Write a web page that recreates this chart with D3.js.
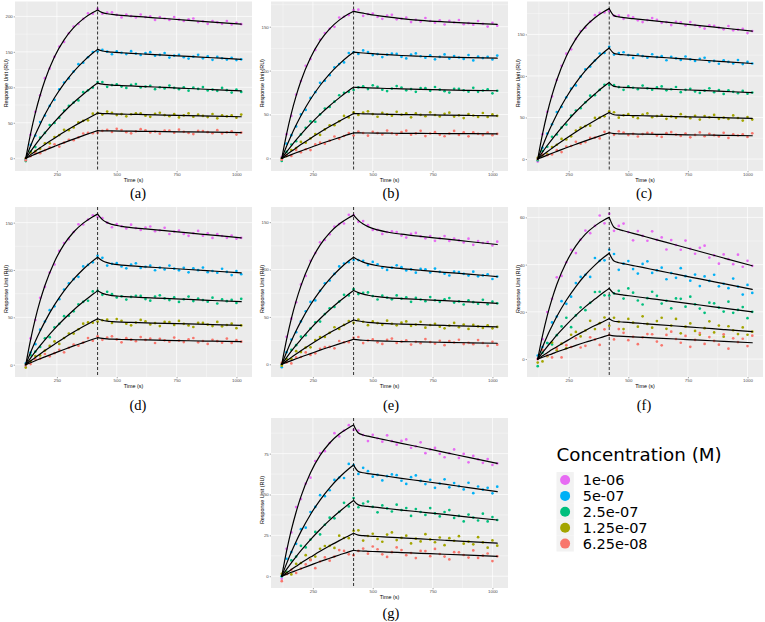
<!DOCTYPE html>
<html><head><meta charset="utf-8">
<script src="https://cdn.jsdelivr.net/npm/d3@7"></script>
<style>body{margin:0;background:#fff}svg{display:block}</style>
</head><body>
<svg id="chart" width="765" height="622"></svg>
<script>
// ---------------- DATA ----------------
const CONC = ["1e-06","5e-07","2.5e-07","1.25e-07","6.25e-08"];
const COLORS = ["#E76BF3","#00B0F6","#00BF7D","#A3A500","#F8766D"];
const X_TICKS = [250,500,750,1000];
const INJECTION_END = 420;
const OBS_T = [120,140,160,180,200,220,240,260,280,300,320,340,360,380,400,420,440,460,480,500,520,540,560,580,600,620,640,660,680,700,720,740,760,780,800,820,840,860,880,900,920,940,960,980,1000,1020];
const FIT_T = [120,140,160,180,200,240,280,320,360,400,420,440,460,480,520,560,620,700,800,900,1020];

// panel (a)
const obs_a_1 = [0,33,65.5,88.8,112.9,126.4,143,157.4,164,176.2,185.6,189.3,196.5,204.3,203.9,210.5,203.8,205.2,205.8,202.1,198.5,202.5,200.5,198.5,202.5,199,200,195,199,197,195,199,195.5,193.5,196,197,192,193,189.5,193.5,191.5,189.5,193.5,188.5,191,189];
const obs_a_2 = [-1.5,18.8,32,51,60.1,73.8,82.3,97.1,106.8,112.6,122.2,132.6,134.8,142.4,149.8,150.5,152.7,150.2,146.6,150.6,148.7,146.8,150.9,147.6,145.7,148.3,149.5,144.6,145.7,148.4,142,144.6,145.8,142.4,140.5,143.2,145.8,140.9,143.6,138.7,142.8,141,139.1,141.7,138.4,139.5];
const obs_a_3 = [-4,9.5,15.8,29,35.7,46.7,49.8,57,67,73.7,78.5,81.5,93.2,95.8,99.6,107.5,107.4,100.7,103.2,104.3,101,99.2,103.4,104.6,99.8,101,102.2,97.4,100.1,98.3,102.5,99.2,97.4,100.1,95.3,99.5,97.7,100.4,95.6,96.8,95,99.2,95.9,92.6,96.8,93.5];
const obs_a_4 = [0,8.1,10,13.2,21,21,29.8,32.6,40,39.6,43.5,50.5,52.7,53.5,62.9,63.5,61.5,65.8,64.1,60.9,62.3,59.1,62,63.3,63.2,60,58.4,62.7,64.1,60.9,59.3,62.1,57.5,60.3,63.2,58.5,61.4,59.7,58.1,62.4,56.3,60.6,59,60.3,57.2,61.5];
const obs_a_5 = [-3,2.9,7.3,7.1,11.3,15.5,19.7,16.4,22,26,25.5,29.4,34.9,35.8,35.2,36,38.7,40.1,37,41.4,39.8,36.7,35.1,38,41,39.4,36.3,37.7,34.6,39,39,35.9,40.3,37.2,35.6,34,38.5,38.4,36.8,35.2,39.6,35,36.5,37.9,33.3,36.2];
const fit_a_1 = [0,34.5,64,88.8,109.9,143,167,184.1,196.5,205.4,209,205.3,203.7,202.8,201.5,200.5,199,197,194.5,192,189];
const fit_a_2 = [0,17.3,33.5,48,61.6,85.3,105.3,122.2,136.3,148.3,153.5,151.2,150.2,149.6,148.7,147.9,146.8,145.4,143.5,141.7,139.5];
const fit_a_3 = [0,9.5,18.8,27.5,35.7,51.3,65.5,78.5,90.2,101.1,106,104.4,103.7,103.2,102.5,101.9,101,99.8,98.3,96.8,95];
const fit_a_4 = [0,5.1,10,14.7,19.5,28.3,37,45,52.7,59.9,63.5,63,62.8,62.6,62.25,61.95,61.5,60.9,60.15,59.4,58.5];
const fit_a_5 = [0,2.9,5.8,8.6,11.3,16.7,22,27,31.9,36.7,39,38.7,38.6,38.5,38.3,38.1,37.9,37.5,37.1,36.7,36.2];

// panel (b)
const obs_b_1 = [1.5,27.6,48.3,72.7,88.1,105.5,113.1,123.5,135.3,142.7,147.6,149.9,160.5,161.3,163.2,169,169.4,162.4,164.4,165,161.2,159,162.7,163.6,158.4,159.3,160.3,155.3,157.8,155.8,159.9,156.5,154.6,157.3,152.5,156.6,154.8,157.5,152.8,154,152.3,156.5,153.3,150.1,154.4,151.2];
const obs_b_2 = [0,16.7,26.4,36.4,50,55.2,68.8,75.4,86,88.4,94.8,103.6,107.4,109.3,119.9,121,119,123,121.1,117.7,118.8,115.4,118.1,119.3,119,115.7,113.9,118.2,119.5,116.3,114.6,117.4,112.8,115.6,118.4,113.7,116.6,114.9,113.3,117.7,111.6,115.9,114.3,115.7,112.6,117.1];
const obs_b_3 = [-3,7.3,15.8,19.5,27.3,34.9,42.2,41.7,50.1,56.7,58.5,64.6,71.9,74.7,75.8,78,80.8,82.1,78.9,83.2,81.5,78.3,76.6,79.5,82.3,80.7,77.5,78.9,75.8,80.1,80,76.9,81.3,78.2,76.5,74.9,79.3,79.2,77.6,76,80.4,75.8,77.3,78.7,74.1,77];
const obs_b_4 = [0,2.6,9.5,11.8,18.7,17.8,22.7,27.7,26.7,33,37.7,37.8,42.3,48.3,46.6,52.5,49.4,52.2,53.6,50.5,47.4,51.8,50.2,48.6,53,49.9,51.3,46.7,51.2,49.6,48,52.4,49.4,47.8,50.7,52.1,47.6,49,45.9,50.4,48.8,47.2,51.7,47.1,50,48.5];
const obs_b_5 = [-1.5,3.6,2.8,9.4,6.9,10.4,9.4,15.9,17.9,16.7,20.1,24.9,22.2,25.5,28.8,26,30.5,28.9,25.9,30.3,28.8,27.2,31.7,28.6,27.1,30,31.5,27,28.4,31.4,25.4,28.3,29.8,26.8,25.2,28.2,31.2,26.6,29.6,25.1,29.5,28,26.5,29.4,26.4,27.9];
const fit_b_1 = [0,27.6,51.3,71.2,88.1,114.6,133.8,147.6,157.5,164.7,167.5,166.4,165.4,164.4,162.7,161.2,159.3,157.3,155.5,154,152.7];
const fit_b_2 = [0,13.7,26.4,37.9,48.5,67.3,83,96.3,107.4,116.9,121,120.5,120,119.6,118.8,118.1,117.2,116.3,115.4,114.7,114.1];
const fit_b_3 = [0,7.3,14.3,21,27.3,39.2,50.1,60,68.9,77.3,81,80.8,80.6,80.4,80,79.6,79.2,78.6,78,77.5,77];
const fit_b_4 = [0,4.1,8,11.8,15.7,22.7,29.7,36.2,42.3,48.1,51,50.9,50.7,50.6,50.4,50.2,49.9,49.6,49.2,48.9,48.5];
const fit_b_5 = [0,2.1,4.3,6.4,8.4,12.4,16.4,20.1,23.7,27.3,29,29,28.9,28.9,28.8,28.7,28.5,28.4,28.2,28.1,27.9];

// panel (c)
const obs_c_1 = [-3,29.9,56.9,75.4,95.2,112.3,126.8,132,144.6,154.1,158,165.3,173.1,175.8,176.4,178,172.6,172.5,168.7,172.6,170.5,166.9,164.8,167.2,169.6,167.5,163.9,164.8,161.2,165.1,164.5,160.9,164.8,161.2,159.1,157,160.9,160.3,158.2,156.1,160,154.9,155.8,156.7,151.6,154];
const obs_c_2 = [0,13.6,30.6,41.8,56.6,62.8,74.3,84.7,88.6,99.3,107.8,111.3,118.6,127,127.6,135.1,125.7,127.5,128.5,125.1,121.7,125.8,123.9,122,126.1,122.7,123.8,118.9,123.1,121.2,119.3,123.4,120,118.1,120.7,121.9,117,118.1,114.7,118.8,116.9,115,119.1,114.3,116.9,115];
const obs_c_3 = [-1.5,9.8,14.8,26.8,29.5,37.9,41.5,52.3,58.4,61.2,68.2,76.3,76.8,83.2,89.3,89,88.9,86.6,83.3,87.6,85.8,84.1,88.4,85.1,83.4,86.2,87.4,82.7,84,86.7,80.5,83.3,84.5,81.3,79.6,82.3,85.1,80.4,83.1,78.4,82.7,80.9,79.2,82,78.7,80];
const obs_c_4 = [1.5,4.5,5.8,14.5,17.2,24.2,23.5,27.3,34.1,37.7,39.7,40.2,49.5,49.8,51.4,57.5,56.3,49.8,52.6,54,50.8,49.2,53.6,54.9,50.3,51.7,53,48.4,51.3,49.6,54,50.9,49.2,52.1,47.5,51.8,50.2,53.1,48.4,49.8,48.2,52.5,49.4,46.3,50.6,47.5];
const obs_c_5 = [0,5.3,4.7,5.5,10.7,8.4,15.1,15.7,20.8,18.4,20.4,25.4,25.8,24.8,32.7,31.6,29.1,33.4,31.8,28.8,30.2,27.1,30,31.4,31.3,28.2,26.6,31.1,32.5,29.4,27.8,30.7,26.1,29,32,27.4,30.3,28.7,27.1,31.5,25.4,29.8,28.3,29.7,26.6,31];
const fit_c_1 = [0,29.9,55.4,76.9,95.2,123.8,144.6,159.5,170.1,177.9,181,172.6,171,170.2,169,167.8,166,163.6,160.6,157.6,154];
const fit_c_2 = [0,15.1,29.1,41.8,53.6,74.3,91.6,106.3,118.6,129.1,133.6,127.2,126,125.5,124.7,123.9,122.7,121.2,119.2,117.3,115];
const fit_c_3 = [0,8.3,16.3,23.8,31,44.5,56.9,68.2,78.3,87.8,92,87.4,86.6,86.3,85.8,85.4,84.7,83.7,82.6,81.4,80];
const fit_c_4 = [0,4.5,8.8,13,17.2,25,32.6,39.7,46.5,52.9,56,53.3,52.8,52.6,52.3,52.1,51.7,51.1,50.5,49.8,49];
const fit_c_5 = [0,2.3,4.7,7,9.2,13.6,17.8,21.9,25.8,29.7,31.6,30.6,30.4,30.3,30.17,29.99,29.73,29.38,28.95,28.51,28];

// panel (d)
const obs_d_1 = [-1.5,27.7,47.2,70.6,82.1,97.3,105.8,120.1,128.5,132.5,140.1,148.2,148,153.1,157.8,156,154.7,150,145.1,148.4,146.1,143.9,147.8,144.3,142.3,144.8,145.9,140.9,141.9,144.5,138,140.5,141.6,138.1,136.1,138.7,141.2,136.2,138.8,133.8,137.8,135.9,133.9,136.4,133,134];
const obs_d_2 = [1.5,12.8,21.7,37,45.5,57.6,61.6,69.2,79.4,85.8,90.3,92.8,103.8,105.3,108.1,115,112.8,104.7,106.5,107.2,103.7,101.7,105.8,107,102.2,103.3,104.5,99.7,102.4,100.6,104.7,101.4,99.6,102.3,97.5,101.7,99.8,102.5,97.7,98.9,97.1,101.3,97.9,94.6,98.8,95.5];
const obs_d_3 = [0,10,13.8,18.7,27.8,29.1,39.3,43.1,51.2,51.6,56.3,63.7,66.4,67.5,77.4,78,73.8,76.9,74.5,71,72.1,68.8,71.5,72.8,72.6,69.3,67.6,71.9,73.2,70,68.2,71,66.3,69.1,71.9,67.2,69.9,68.2,66.5,70.8,64.6,68.9,67.1,68.4,65.2,69.5];
const obs_d_4 = [-3,3.9,9.1,9.8,14.9,19.8,24.6,21.9,28.2,32.9,32.9,37.4,43.3,44.6,44.3,45.5,46.9,47.5,44,48.2,46.4,43.3,41.6,44.5,47.3,45.7,42.5,43.9,40.8,45.1,45,41.9,46.2,43.1,41.5,39.8,44.2,44.1,42.4,40.8,45.2,40.5,41.9,43.3,38.6,41.5];
const obs_d_5 = [0,0.6,5.7,6.3,11.3,8.8,12.2,15.7,13.1,17.9,21.3,20,23.3,28.1,25.3,30,26.2,28.7,29.9,26.7,23.6,28,26.4,24.8,29.2,26.1,27.5,22.9,27.3,25.7,24.2,28.6,25.5,23.9,26.8,28.2,23.6,25,21.9,26.3,24.8,23.2,27.6,23,25.9,24.3];
const fit_d_1 = [0,26.2,48.7,67.6,83.6,108.8,127,140.1,149.5,156.3,159,153.2,150,148.1,146.1,144.8,143.3,141.5,139.1,136.8,134];
const fit_d_2 = [0,12.8,24.7,35.5,45.5,63.1,77.9,90.3,100.8,109.6,113.5,109.8,107.7,106.5,105.2,104.3,103.3,102.1,100.5,98.9,97];
const fit_d_3 = [0,7,13.8,20.2,26.3,37.8,48.2,57.8,66.4,74.4,78,75.3,73.9,73,72.1,71.5,70.8,70,68.9,67.8,66.5];
const fit_d_4 = [0,3.9,7.6,11.3,14.9,21.6,28.2,34.4,40.3,45.8,48.5,46.9,46,45.5,44.9,44.6,44.2,43.6,43,42.3,41.5];
const fit_d_5 = [0,2.1,4.2,6.3,8.3,12.2,16.1,19.8,23.3,26.8,28.5,27.7,27.2,26.9,26.6,26.4,26.1,25.7,25.3,24.8,24.3];

// panel (e)
const obs_e_1 = [0,29,48.2,65.4,84.3,93.3,109.2,117.4,128.8,131.2,137.2,145.2,148,148.6,157.7,157.4,150.4,151.1,146.8,141.8,141.8,137.6,139.6,140.2,139.5,135.8,133.7,137.6,138.6,135,132.9,135.4,130.3,132.8,135.3,130.2,132.7,130.7,128.6,132.6,126.1,130,128,129,125.4,129.4];
const obs_e_2 = [-3,12.8,26.1,33.9,45.3,55.9,65.8,67.4,77.5,85.5,88.4,95.4,103.3,106.4,107.7,110,110,109.3,104.7,108,105.5,101.8,99.6,102,104.5,102.5,99.1,100.1,96.7,100.7,100.3,96.9,101,97.6,95.6,93.7,97.8,97.4,95.5,93.6,97.7,92.8,93.8,94.9,90,92.6];
const obs_e_3 = [0,5.5,15.3,20.2,29.2,30.6,37.7,44.4,45.1,53,59.1,60.5,66.2,73.3,72.7,79.3,74.1,75.5,75.9,72,68.4,72.4,70.4,68.6,72.7,69.4,70.7,65.9,70.1,68.4,66.6,70.9,67.6,65.9,68.6,69.9,65.1,66.4,63.1,67.4,65.6,63.9,68.1,63.4,66.1,64.4];
const obs_e_4 = [-1.5,5.2,5.8,13.9,12.9,17.7,17.9,25.6,28.7,28.8,33.2,39.1,37.3,41.6,45.7,43.8,47.2,44.9,41.3,45.3,43.5,41.7,46,42.8,41.1,43.9,45.2,40.6,41.9,44.8,38.6,41.5,42.8,39.7,38,40.9,43.7,39.1,41.9,37.3,41.6,40,38.3,41.2,38,39.4];
const obs_e_5 = [1.5,2,0.9,7.3,7.7,12.5,9.8,11.6,16.4,18.1,18.3,16.9,24.6,23.2,23.3,27.9,28.8,22.4,25.1,26.3,23.2,21.5,25.9,27.2,22.6,24,25.4,20.8,23.7,22.2,26.6,23.5,21.9,24.8,20.2,24.6,23,25.9,21.3,22.7,21.2,25.6,22.5,19.4,23.8,20.7];
const fit_e_1 = [0,26,48.2,66.9,82.8,107.7,125.8,138.7,148,154.7,157.4,151.9,148.1,145.3,141.8,139.6,137.3,135,132.3,129.6,126.4];
const fit_e_2 = [0,12.8,24.6,35.4,45.3,62.8,77.5,89.9,100.3,109.2,113,110,107.8,106.2,104,102.6,101,99.24,97.1,95.1,92.6];
const fit_e_3 = [0,7,13.8,20.2,26.2,37.7,48.1,57.6,66.2,74.2,77.8,75.6,74,72.9,71.4,70.4,69.4,68.4,67.1,65.9,64.4];
const fit_e_4 = [0,3.7,7.3,10.9,14.4,20.9,27.2,33.2,38.8,44.2,46.8,45.7,44.9,44.3,43.5,42.95,42.4,41.8,41,40.3,39.4];
const fit_e_5 = [0,2,3.9,5.8,7.7,11.3,14.9,18.3,21.6,24.8,26.4,25.8,25.4,25.1,24.65,24.36,24.03,23.65,23.19,22.74,22.2];

// panel (f)
const obs_f_1 = [0,8.4,19.9,25.5,34.6,35.2,41,46.3,44.9,50.6,54.4,53.3,56.4,60.8,57.5,61.5,54.3,56.4,57.4,53.8,50.3,54.2,52.2,50.1,54.1,50.5,51.5,46.4,50.4,48.3,46.3,50.2,46.7,44.6,47.1,48,43,43.9,40.4,44.3,42.3,40.2,44.2,39.1,41.6,39.5];
const obs_f_2 = [1.5,5.1,6.8,15.5,18,24.5,23.4,26.4,32.2,34.8,35.7,34.8,42.8,41.6,41.8,46.3,44.5,37.8,40.4,41.5,38.1,36.2,40.3,41.4,36.5,37.6,38.7,33.8,36.4,34.4,38.5,35.1,33.2,35.8,30.9,35,33.1,35.7,30.8,31.9,30,34.1,30.7,27.3,31.4,28];
const obs_f_3 = [-3,2.7,6.8,6.2,10.1,13.8,17.5,13.5,18.5,21.9,20.7,23.8,28.4,28.5,27,26.9,27.8,28.9,25.6,29.9,28.1,24.8,23.1,25.8,28.5,26.8,23.5,24.7,21.5,25.7,25.5,22.2,26.4,23.2,21.4,19.6,23.9,23.6,21.8,20.1,24.3,19.6,20.8,22,17.3,20];
const obs_f_4 = [-1.5,-1,1.2,7,3.7,6.5,4.6,10.3,11.5,9.6,12.1,16.2,12.7,15.2,17.6,14.1,17.5,15.8,12.7,17,15.4,13.7,18.1,14.9,13.3,16.1,17.5,12.8,14.2,17,10.9,13.7,15.1,11.9,10.3,13.1,16,11.3,14.2,9.5,13.9,12.2,10.6,13.4,10.3,11.6];
const obs_f_5 = [0,3.8,1.5,0.7,4.5,0.7,5.9,5.1,8.8,4.9,5.6,9.2,8.3,6,12.6,10.2,8.3,12.7,11.1,8,9.4,6.3,9.2,10.6,10.5,7.4,5.8,10.2,11.6,8.5,6.9,9.8,5.2,8.1,11,6.4,9.3,7.7,6.1,10.5,4.4,8.8,7.2,8.6,5.5,9.9];
const fit_f_1 = [0,9.9,18.4,25.5,31.6,41,47.9,52.9,56.4,59,60,55.8,54.9,54.35,53.25,52.15,50.5,48.3,45.55,42.8,39.5];
const fit_f_2 = [0,5.1,9.8,14,18,24.9,30.7,35.7,39.8,43.3,44.8,41.5,40.8,40.4,39.6,38.8,37.55,35.94,33.93,31.92,29.5];
const fit_f_3 = [0,2.7,5.3,7.7,10.1,14.5,18.5,22.2,25.4,28.5,29.9,27.8,27.4,27.1,26.6,26.06,25.27,24.2,22.9,21.58,20];
const fit_f_4 = [0,1.4,2.7,4,5.2,7.6,10,12.1,14.2,16.1,17.1,16,15.8,15.65,15.35,15.05,14.6,14,13.25,12.5,11.6];
const fit_f_5 = [0,0.75,1.5,2.2,3,4.4,5.8,7.1,8.3,9.6,10.2,9.8,9.7,9.6,9.4,9.2,8.9,8.5,8,7.5,6.9];

// panel (g)
const obs_g_1 = [-1.5,16.8,26.8,42.3,47.2,56.6,60.3,70.5,75.4,76.5,81.5,87.5,85.5,89.1,92.4,89.5,89.1,86.4,82.7,86.5,84.4,82.3,86.2,82.6,80.5,82.8,83.7,78.6,79.5,81.9,75.3,77.6,78.5,74.9,72.8,75.2,77.6,72.4,74.8,69.7,73.6,71.5,69.4,71.7,68.1,69];
const obs_g_2 = [0,10.7,14.8,19.8,28.8,29.7,39.3,42.4,49.6,49,52.6,58.9,60.4,60.1,68.7,68,62.6,66.3,64.3,60.9,62,58.6,61.2,62.3,61.8,58.4,56.5,60.6,61.7,58.3,56.4,59,54.1,56.7,59.3,54.4,57,55.1,53.1,57.2,50.8,54.9,53,54.1,50.7,54.8];
const obs_g_3 = [0,2.7,9.7,12,18.6,17.6,22.4,27.1,25.6,31.5,35.8,35.4,39.4,44.9,42.7,47.8,42.2,44.5,45.7,42.4,39.1,43.3,41.5,39.6,43.8,40.5,41.7,36.9,41.1,39.3,37.5,41.7,38.4,36.6,39.3,40.5,35.7,36.9,33.5,37.7,35.9,34.1,38.3,33.5,36.2,34.4];
const obs_g_4 = [1.5,2.1,1.1,7.6,8.1,12.9,10.2,12,16.8,18.5,18.6,17.3,24.8,23.4,23.3,27.8,28.1,21.8,24.6,26,22.8,21.1,25.5,26.8,22.1,23.5,24.8,20.1,23,21.3,25.7,22.5,20.8,23.7,19,23.3,21.7,24.5,19.9,21.2,19.5,23.9,20.7,17.5,21.9,18.7];
const obs_g_5 = [-3,1.2,3.9,2,4.6,7.2,9.8,4.9,9,11.5,9.5,12,16,15.5,13.4,12.9,15.5,16.9,13.8,18.2,16.5,13.4,11.8,14.7,17.6,16,12.9,14.2,11.1,15.5,15.4,12.3,16.7,13.6,12,10.3,14.7,14.6,13,11.4,15.8,11.2,12.6,13.9,9.3,12.2];
const fit_g_1 = [0,15.3,28.3,39.3,48.7,63.3,73.9,81.5,87,90.9,92.5,87.6,86.4,85.7,84.4,83.2,81.3,78.9,75.8,72.7,69];
const fit_g_2 = [0,7.7,14.8,21.3,27.3,37.8,46.6,54.1,60.4,65.7,68,64.1,63.3,62.8,62,61.15,59.9,58.3,56.3,54.2,51.8];
const fit_g_3 = [0,4.2,8.2,12,15.6,22.4,28.6,34.3,39.4,44.2,46.3,43.65,43,42.7,42.1,41.45,40.5,39.3,37.8,36.2,34.4];
const fit_g_4 = [0,2.1,4.1,6.1,8.1,11.7,15.3,18.6,21.8,24.8,26.3,25.1,24.8,24.6,24.3,23.96,23.47,22.82,22,21.2,20.2];
const fit_g_5 = [0,1.2,2.4,3.5,4.6,6.8,9,11,13,14.9,15.9,15.5,15.4,15.26,15,14.8,14.47,14.02,13.45,12.9,12.2];

const Y_TICKS_a = [0,50,100,150,200];
const Y_TICKS_b = [0,50,100,150];
const Y_TICKS_c = [0,50,100,150];
const Y_TICKS_d = [0,50,100,150];
const Y_TICKS_e = [0,50,100,150];
const Y_TICKS_f = [0,20,40,60];
const Y_TICKS_g = [0,25,50,75];
const X_LIMITS = [75,1065];

// ---------------- LAYOUT ----------------
const COLS = [[15,252],[271,508],[527,763]];
const ROWS = [[1.5,171],[207,377],[418,588]];
const CAP_X = [138,391,644];
const CAP_Y = [197.5,409.5,617.5];

const panels = [
  {label:"(a)",col:0,row:0,yLim:[-18,221],yTicks:Y_TICKS_a,obs:[obs_a_1,obs_a_2,obs_a_3,obs_a_4,obs_a_5],fit:[fit_a_1,fit_a_2,fit_a_3,fit_a_4,fit_a_5]},
  {label:"(b)",col:1,row:0,yLim:[-14.4,178.7],yTicks:Y_TICKS_b,obs:[obs_b_1,obs_b_2,obs_b_3,obs_b_4,obs_b_5],fit:[fit_b_1,fit_b_2,fit_b_3,fit_b_4,fit_b_5]},
  {label:"(c)",col:2,row:0,yLim:[-14.4,189.6],yTicks:Y_TICKS_c,obs:[obs_c_1,obs_c_2,obs_c_3,obs_c_4,obs_c_5],fit:[fit_c_1,fit_c_2,fit_c_3,fit_c_4,fit_c_5]},
  {label:"(d)",col:0,row:1,yLim:[-13,166.5],yTicks:Y_TICKS_d,obs:[obs_d_1,obs_d_2,obs_d_3,obs_d_4,obs_d_5],fit:[fit_d_1,fit_d_2,fit_d_3,fit_d_4,fit_d_5]},
  {label:"(e)",col:1,row:1,yLim:[-13.4,166],yTicks:Y_TICKS_e,obs:[obs_e_1,obs_e_2,obs_e_3,obs_e_4,obs_e_5],fit:[fit_e_1,fit_e_2,fit_e_3,fit_e_4,fit_e_5]},
  {label:"(f)",col:2,row:1,yLim:[-7.6,64.4],yTicks:Y_TICKS_f,obs:[obs_f_1,obs_f_2,obs_f_3,obs_f_4,obs_f_5],fit:[fit_f_1,fit_f_2,fit_f_3,fit_f_4,fit_f_5]},
  {label:"(g)",col:1,row:2,yLim:[-7.2,96.8],yTicks:Y_TICKS_g,obs:[obs_g_1,obs_g_2,obs_g_3,obs_g_4,obs_g_5],fit:[fit_g_1,fit_g_2,fit_g_3,fit_g_4,fit_g_5]}
];

const AXIS_FONT = "'Liberation Sans', Arial, Helvetica, sans-serif";
const svg = d3.select("#chart");
svg.append("rect").attr("width",765).attr("height",622).attr("fill","#fff");

panels.forEach(p => {
  const [x0,x1] = COLS[p.col], [y0,y1] = ROWS[p.row];
  const x = d3.scaleLinear().domain(X_LIMITS).range([x0,x1]);
  const y = d3.scaleLinear().domain(p.yLim).range([y1,y0]);
  const g = svg.append("g");
  const clipId = "clip" + p.label.replace(/[()]/g,"");
  g.append("clipPath").attr("id",clipId).append("rect")
    .attr("x",x0).attr("y",y0).attr("width",x1-x0).attr("height",y1-y0);
  g.append("rect").attr("x",x0).attr("y",y0).attr("width",x1-x0).attr("height",y1-y0).attr("fill","#EBEBEB");

  // grid
  const step = p.yTicks[1]-p.yTicks[0];
  const yMinor = [p.yTicks[0]-step/2, ...p.yTicks.map(t=>t+step/2)].filter(v=>v>p.yLim[0]&&v<p.yLim[1]);
  const xStep = X_TICKS[1]-X_TICKS[0];
  const xMinor = [X_TICKS[0]-xStep/2, ...X_TICKS.map(t=>t+xStep/2)].filter(v=>v>X_LIMITS[0]&&v<X_LIMITS[1]);
  const grid = g.append("g");
  grid.selectAll(".ymin").data(yMinor).join("line")
    .attr("x1",x0).attr("x2",x1).attr("y1",d=>y(d)).attr("y2",d=>y(d))
    .attr("stroke","#fff").attr("stroke-width",0.35);
  grid.selectAll(".xmin").data(xMinor).join("line")
    .attr("y1",y0).attr("y2",y1).attr("x1",d=>x(d)).attr("x2",d=>x(d))
    .attr("stroke","#fff").attr("stroke-width",0.35);
  grid.selectAll(".ymaj").data(p.yTicks).join("line")
    .attr("x1",x0).attr("x2",x1).attr("y1",d=>y(d)).attr("y2",d=>y(d))
    .attr("stroke","#fff").attr("stroke-width",0.7);
  grid.selectAll(".xmaj").data(X_TICKS).join("line")
    .attr("y1",y0).attr("y2",y1).attr("x1",d=>x(d)).attr("x2",d=>x(d))
    .attr("stroke","#fff").attr("stroke-width",0.7);

  const plot = g.append("g").attr("clip-path",`url(#${clipId})`);
  // points
  p.obs.forEach((arr,si) => {
    const pts = arr.map((v,i)=>({t:OBS_T[i],v})).filter(d=>d.t!==undefined);
    plot.append("g").selectAll("circle").data(pts).join("circle")
      .attr("cx",d=>x(d.t)).attr("cy",d=>y(d.v)).attr("r",1.35)
      .attr("fill",COLORS[si]);
  });
  // fitted curves (association and dissociation phases)
  const line = d3.line().x(d=>x(d.t)).y(d=>y(d.v)).curve(d3.curveMonotoneX);
  p.fit.forEach(arr => {
    const pts = arr.map((v,i)=>({t:FIT_T[i],v}));
    const assoc = pts.filter(d=>d.t<=INJECTION_END);
    const dissoc = pts.filter(d=>d.t>=INJECTION_END);
    [assoc,dissoc].forEach(seg => plot.append("path").datum(seg).attr("d",line)
      .attr("fill","none").attr("stroke","#000").attr("stroke-width",1.2)
      .attr("stroke-linejoin","round").attr("stroke-linecap","round"));
  });
  // injection end
  plot.append("line").attr("x1",x(INJECTION_END)).attr("x2",x(INJECTION_END))
    .attr("y1",y0).attr("y2",y1).attr("stroke","#000").attr("stroke-width",0.8)
    .attr("stroke-dasharray","3,2");

  // axes
  const ax = g.append("g").attr("transform",`translate(0,${y1})`)
    .call(d3.axisBottom(x).tickValues(X_TICKS).tickSize(1.3).tickPadding(0.9).tickFormat(d3.format("d")));
  const ay = g.append("g").attr("transform",`translate(${x0},0)`)
    .call(d3.axisLeft(y).tickValues(p.yTicks).tickSize(1.3).tickPadding(0.9).tickFormat(d3.format("d")));
  [ax,ay].forEach(a => {
    a.select(".domain").remove();
    a.selectAll(".tick line").attr("stroke","#333").attr("stroke-width",0.45);
    a.selectAll(".tick text").attr("fill","#4D4D4D").attr("font-size","4.4px").attr("font-family",AXIS_FONT);
  });
  g.append("text").attr("x",(x0+x1)/2).attr("y",y1+11).attr("text-anchor","middle")
    .attr("font-size","5.4px").attr("font-family",AXIS_FONT).attr("fill","#000").text("Time (s)");
  g.append("text").attr("transform",`translate(${x0-7},${(y0+y1)/2-3}) rotate(-90)`)
    .attr("text-anchor","middle").attr("font-size","5.4px").attr("font-family",AXIS_FONT)
    .attr("fill","#000").text("Response Unit (RU)");
  // caption
  svg.append("text").attr("x",CAP_X[p.col]).attr("y",CAP_Y[p.row]).attr("text-anchor","middle")
    .attr("font-family","'Liberation Serif', 'Times New Roman', serif").attr("font-size","14.5px")
    .attr("fill","#000").text(p.label);
});

// legend
const LEG_FONT = "'DejaVu Sans', Verdana, sans-serif";
const leg = svg.append("g");
leg.append("text").attr("x",556.5).attr("y",461).attr("font-family",LEG_FONT)
  .attr("font-size","18.3px").attr("fill","#000").text("Concentration (M)");
CONC.forEach((c,i) => {
  const cy = 480 + i*15.9;
  leg.append("rect").attr("x",556.5).attr("y",cy-7.95).attr("width",17.3).attr("height",15.9).attr("fill","#F2F2F2");
  leg.append("circle").attr("cx",565.1).attr("cy",cy).attr("r",5).attr("fill",COLORS[i]);
  leg.append("text").attr("x",582.7).attr("y",cy+5.2).attr("font-family",LEG_FONT)
    .attr("font-size","14.5px").attr("fill","#000").text(c);
});
</script>
</body></html>
